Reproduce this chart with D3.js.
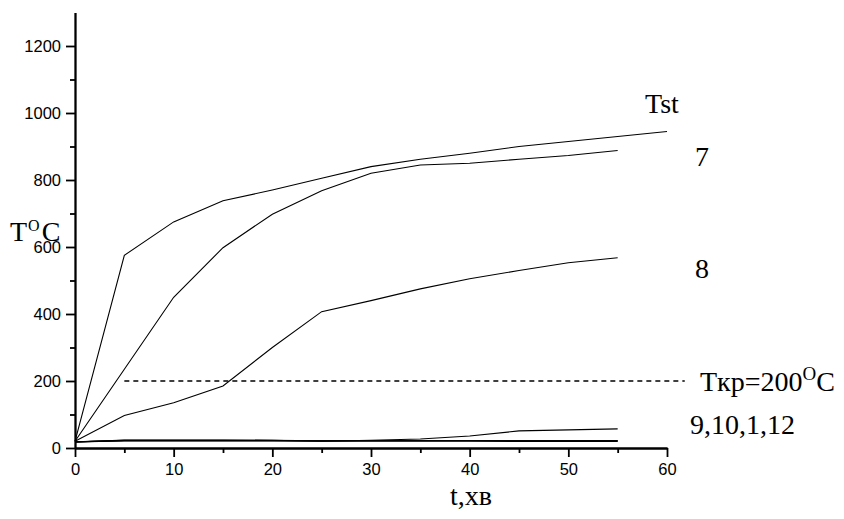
<!DOCTYPE html>
<html>
<head>
<meta charset="utf-8">
<script src="https://cdn.jsdelivr.net/npm/d3@7"></script>
<style>
  body { margin: 0; background: #fff; }
  .axis text { font-family: "Liberation Sans", Arial, sans-serif; font-size: 16.5px; fill: #000; }
  .axis path, .axis line { stroke: #000; stroke-width: 1.8; }
  .lbl { font-family: "Liberation Serif", "Times New Roman", serif; font-size: 28px; fill: #000; }
</style>
</head>
<body>
<script>
// time, minutes
var times = [0, 5, 10, 15, 20, 25, 30, 35, 40, 45, 50, 55];
var timesTst = [0, 5, 10, 15, 20, 25, 30, 35, 40, 45, 50, 55, 60];

// temperatures, deg C
var tst = [20, 575, 675, 738, 770, 805, 840, 862, 880, 900, 915, 930, 945];
var s7  = [20, 235, 450, 598, 698, 768, 820, 845, 850, 862, 873, 888];
var s8  = [20, 97, 135, 185, 300, 407, 440, 475, 505, 530, 553, 568];
var s9  = [18, 24, 24, 24, 23, 20, 23, 27, 36, 51, 54, 57];
var s10 = [18, 23, 23, 23, 23, 21, 22, 22, 22, 22, 22, 22];
var s1  = [18, 22, 22, 22, 22, 21, 21, 21, 21, 21, 21, 21];
var s12 = [18, 21, 21, 21, 21, 21, 21, 21, 21, 20, 20, 20];

var tkr = 200;
var tkrRange = [5, 61.8];

var xMajor = [0, 10, 20, 30, 40, 50, 60];
var yMajor = [0, 200, 400, 600, 800, 1000, 1200];

// Width and height
var w = 844;
var h = 519;

var svg = d3.select("body")
            .append("svg")
            .attr("width", w)
            .attr("height", h);

var x = d3.scaleLinear().domain([0, 60]).range([75, 667]);
var y = d3.scaleLinear().domain([0, 1300]).range([448, 12.5]);

// minor ticks
svg.append("g")
   .attr("class", "axis")
   .attr("transform", "translate(0,448)")
   .call(d3.axisBottom(x).tickValues(d3.range(5, 60, 10)).tickSize(5).tickFormat("").tickSizeOuter(0));
svg.append("g")
   .attr("class", "axis")
   .attr("transform", "translate(75,0)")
   .call(d3.axisLeft(y).tickValues(d3.range(100, 1300, 200)).tickSize(5).tickFormat("").tickSizeOuter(0));

// major ticks
svg.append("g")
   .attr("class", "axis")
   .attr("transform", "translate(0,448)")
   .call(d3.axisBottom(x).tickValues(xMajor).tickSize(9).tickPadding(6).tickSizeOuter(0).tickFormat(d3.format("d")));
svg.append("g")
   .attr("class", "axis")
   .attr("transform", "translate(75,0)")
   .call(d3.axisLeft(y).tickValues(yMajor).tickSize(9).tickPadding(5).tickSizeOuter(0).tickFormat(d3.format("d")));

var line = d3.line()
             .x(function(d){ return x(d[0]); })
             .y(function(d){ return y(d[1]); });

function draw(ts, vals, width){
  svg.append("path")
     .datum(ts.map(function(t, i){ return [t, vals[i]]; }))
     .attr("d", line)
     .attr("fill", "none")
     .attr("stroke", "#000")
     .attr("stroke-width", width);
}

draw(timesTst, tst, 1.1);
draw(times, s7, 1.1);
draw(times, s8, 1.1);
draw(times, s9, 1.1);
draw(times, s10, 1.3);
draw(times, s1, 1.3);
draw(times, s12, 1.3);

// critical temperature
svg.append("line")
   .attr("x1", x(tkrRange[0])).attr("x2", x(tkrRange[1]))
   .attr("y1", y(tkr)).attr("y2", y(tkr))
   .attr("stroke", "#000")
   .attr("stroke-width", 1.3)
   .attr("stroke-dasharray", "5,4");

// labels
function label(px, py, str){
  return svg.append("text").attr("class", "lbl").attr("x", px).attr("y", py).text(str);
}

label(645, 113, "Tst");
label(695, 166, "7");
label(695, 278, "8");
label(690, 434, "9,10,1,12");

var tk = label(700, 391, "Tкр=200");
tk.append("tspan").attr("font-size", "19px").attr("dy", -11).text("O");
tk.append("tspan").attr("dy", 11).text("C");

var ty = label(10, 241, "T").attr("font-size", "23px");
ty.append("tspan").attr("font-size", "16px").attr("dx", 1).attr("dy", -10).text("O");
ty.append("tspan").attr("dx", 2).attr("dy", 10).text("C");

svg.append("text").attr("class", "lbl")
   .attr("x", 450).attr("y", 505)
   .text("t,хв");
</script>
</body>
</html>
